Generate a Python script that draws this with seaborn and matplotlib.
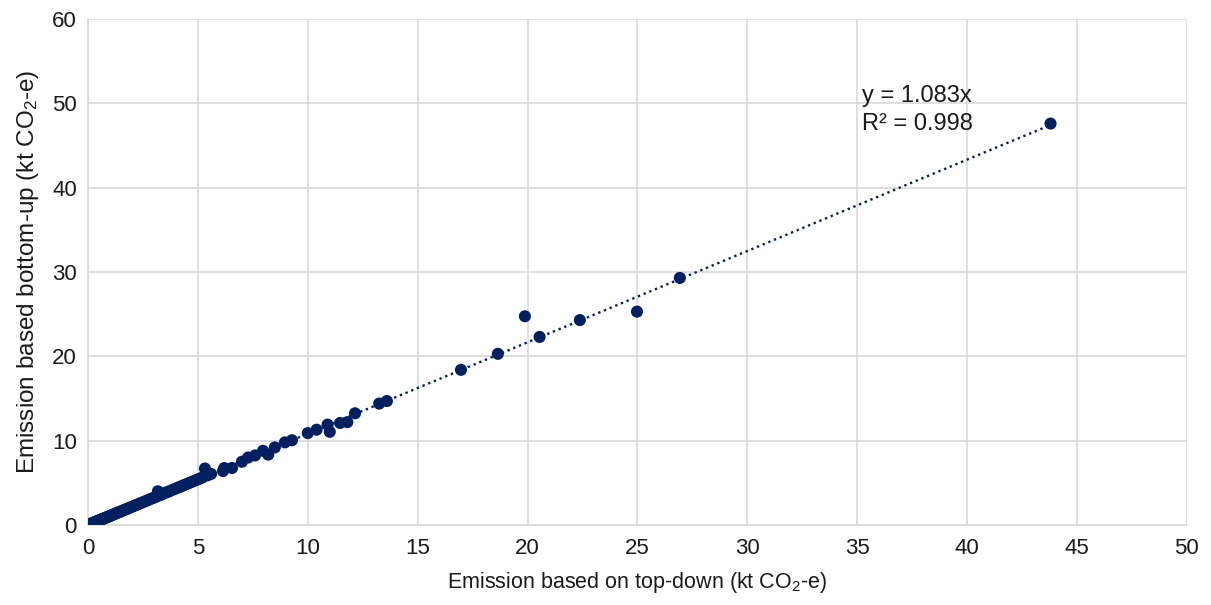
import numpy as np
import pandas as pd
import seaborn as sns
import matplotlib.pyplot as plt

# Data (kt CO2-e)
top_down = [0.01, 0.03, 0.05, 0.07, 0.09, 0.11, 0.13, 0.15, 0.17, 0.19, 0.21, 0.24, 0.27, 0.30,
            0.33, 0.36, 0.39, 0.42, 0.45, 0.48, 0.52, 0.56, 0.60, 0.64, 0.68, 0.72, 0.76, 0.80,
            0.85, 0.90, 0.95, 1.00, 1.05, 1.10, 1.15, 1.20, 1.26, 1.32, 1.38, 1.44, 1.50, 1.58,
            1.66, 1.74, 1.82, 1.90, 2.00, 2.10, 2.20, 2.30, 2.40, 2.50, 2.62, 2.74, 2.86, 2.98,
            3.10, 3.18, 3.25, 3.35, 3.45, 3.58, 3.70, 3.82, 3.95, 4.08, 4.20, 4.32, 4.45, 4.58,
            4.70, 4.82, 4.95, 5.05, 5.20, 5.32, 5.45, 5.60, 6.14, 6.20, 6.55, 7.00, 7.28, 7.60,
            7.96, 8.20, 8.50, 8.96, 9.28, 10.00, 10.40, 10.90, 11.00, 11.47, 11.80, 12.15,
            13.25, 13.60, 16.97, 18.65, 19.88, 20.55, 22.38, 24.98, 26.93, 43.80]
bottom_up = [0.01, 0.03, 0.06, 0.08, 0.10, 0.12, 0.14, 0.16, 0.19, 0.20, 0.23, 0.26, 0.30, 0.32,
             0.36, 0.39, 0.42, 0.46, 0.49, 0.52, 0.56, 0.61, 0.65, 0.69, 0.74, 0.78, 0.82, 0.87,
             0.92, 0.97, 1.03, 1.08, 1.14, 1.19, 1.25, 1.30, 1.37, 1.43, 1.50, 1.56, 1.62, 1.71,
             1.80, 1.88, 1.97, 2.05, 2.17, 2.27, 2.38, 2.49, 2.60, 2.70, 2.84, 2.96, 3.10, 3.22,
             3.36, 4.00, 3.52, 3.62, 3.74, 3.88, 4.00, 4.14, 4.28, 4.42, 4.55, 4.68, 4.82, 4.96,
             5.09, 5.22, 5.36, 5.47, 5.63, 6.70, 5.90, 6.06, 6.40, 6.75, 6.76, 7.50, 8.00, 8.25,
             8.80, 8.35, 9.20, 9.80, 10.05, 10.90, 11.30, 11.90, 11.05, 12.10, 12.20, 13.25,
             14.40, 14.70, 18.40, 20.30, 24.75, 22.30, 24.30, 25.30, 29.30, 47.60]
slope = 1.083
r2 = 0.998
x_ticks = [0, 5, 10, 15, 20, 25, 30, 35, 40, 45, 50]
y_ticks = [0, 10, 20, 30, 40, 50, 60]

navy = '#002060'
grid_c = '#d9d9d9'

sns.set_theme(style='whitegrid')
plt.rcParams['font.family'] = ['Liberation Sans', 'DejaVu Sans']
plt.rcParams['mathtext.fontset'] = 'custom'
plt.rcParams['mathtext.rm'] = 'Liberation Sans'
plt.rcParams['mathtext.it'] = 'Liberation Sans'

df = pd.DataFrame({'td': top_down, 'bu': bottom_up})

fig = plt.figure(figsize=(12.11, 6.05), dpi=100)
ax = fig.add_axes([0.0727, 0.1322, 0.9073, 0.8364])

sns.scatterplot(data=df, x='td', y='bu', ax=ax, color=navy, s=76, edgecolor='none', zorder=3)

xl = np.array([0, max(top_down)])
ax.plot(xl, slope * xl, linestyle=(0, (1, 1.6)), color=navy, linewidth=1.7, zorder=2)

ax.set_xlim(0, 50)
ax.set_ylim(0, 60)
ax.set_xticks(x_ticks)
ax.set_yticks(y_ticks)
ax.tick_params(axis='x', labelsize=16, length=0, pad=9)
ax.tick_params(axis='y', labelsize=16, length=0, pad=8)
for lab in ax.get_xticklabels() + ax.get_yticklabels():
    lab.set_color('#1a1a1a')
ax.grid(True, color=grid_c, linewidth=1.2)
for side in ['top', 'right']:
    ax.spines[side].set_visible(False)
for side in ['left', 'bottom']:
    ax.spines[side].set_color(grid_c)
    ax.spines[side].set_linewidth(1.2)

ax.set_xlabel(r'Emission based on top-down (kt CO$_\mathregular{2}$-e)', fontsize=15.5,
              labelpad=8, color='#1a1a1a')
ax.set_ylabel(r'Emission based bottom-up (kt CO$_\mathregular{2}$-e)', fontsize=17.5,
              labelpad=8, color='#1a1a1a')

ax.text(35.2, 52.2, f'y = {slope:.3f}x\nR² = {r2:.3f}', fontsize=17, ha='left', va='top',
        linespacing=1.35, color='#1a1a1a')

fig.savefig('out.png', dpi=100)
